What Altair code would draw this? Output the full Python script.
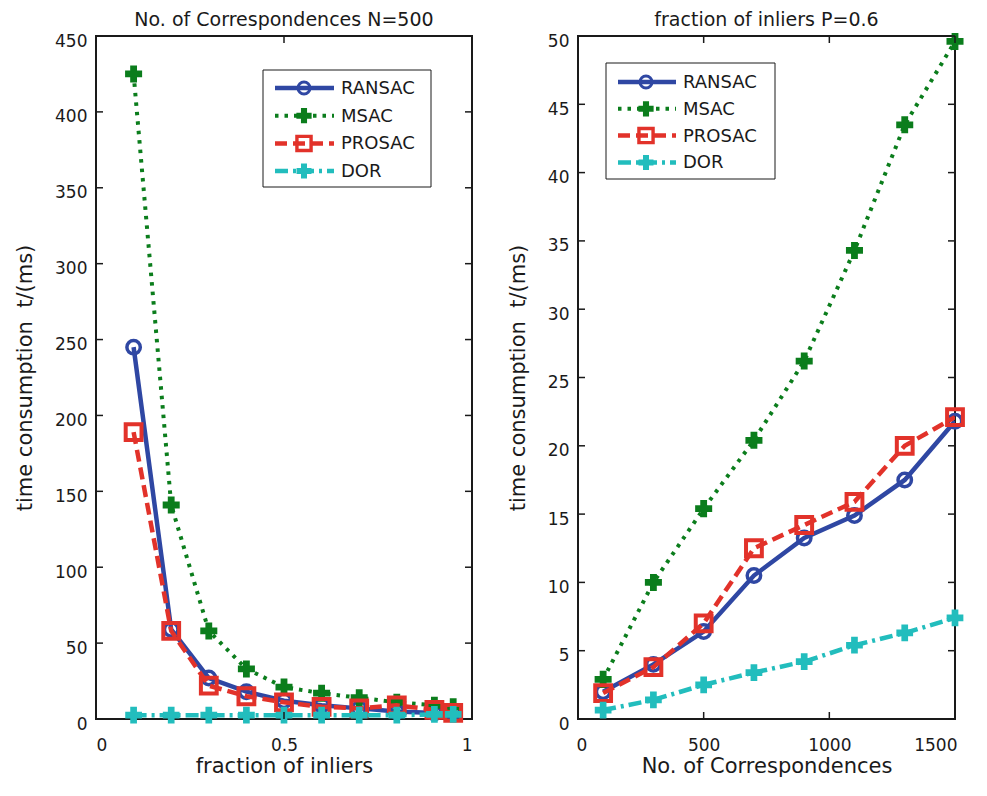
import altair as alt
import pandas as pd

# ---------------- data ----------------
series = ["RANSAC", "MSAC", "PROSAC", "DOR"]

# left panel: N = 500, varying fraction of inliers
frac_inliers = [0.1, 0.2, 0.3, 0.4, 0.5, 0.6, 0.7, 0.8, 0.9, 0.95]
left_ransac = [245, 59, 27, 18, 12, 9, 7, 5, 4, 4]
left_msac = [425, 141, 58, 33, 21, 17, 14, 11, 9, 8]
left_prosac = [189, 58, 22, 15, 11, 8, 7, 9, 6, 4]
left_dor = [2.5, 2.5, 2.5, 2.5, 2.5, 2.5, 2.5, 2.5, 3, 3]

# right panel: P = 0.6, varying number of correspondences
n_corr = [100, 300, 500, 700, 900, 1100, 1300, 1500]
right_ransac = [2.0, 4.0, 6.4, 10.5, 13.25, 14.9, 17.5, 21.8]
right_msac = [2.9, 10.0, 15.4, 20.4, 26.2, 34.3, 43.5, 49.6]
right_prosac = [1.9, 3.8, 7.0, 12.5, 14.2, 15.9, 20.0, 22.1]
right_dor = [0.65, 1.4, 2.5, 3.4, 4.2, 5.4, 6.3, 7.4]

left_xticks = [0, 0.5, 1]
left_yticks = [0, 50, 100, 150, 200, 250, 300, 350, 400, 450]
right_xticks = [0, 500, 1000, 1500]
right_yticks = [0, 5, 10, 15, 20, 25, 30, 35, 40, 45, 50]

# ---------------- styles ----------------
FONT = "DejaVu Sans"
INK = "#1a1a1a"
styles = {
    "RANSAC": dict(color="#2f47a3", dash=None, width=4.5, shape="circle", size=180, filled=False, sw=3.5),
    "MSAC": dict(color="#0b7d1c", dash=[3.5, 6], width=4, shape="cross", size=290, filled=True, sw=0),
    "PROSAC": dict(color="#e2322a", dash=[12, 6], width=4.5, shape="square", size=250, filled=False, sw=4),
    "DOR": dict(color="#22bdbd", dash=[13, 5, 3, 5], width=4.5, shape="cross", size=280, filled=True, sw=0),
}


def panel(xs, ys_by_series, xdom, ydom, xticks, yticks, w, h, title, xtitle, legend, flush):
    xaxis = dict(values=xticks, title=xtitle, format="~r")
    if flush:
        xaxis.update(labelFlush=True, labelFlushOffset=2)
    X = lambda f: alt.X(f"{f}:Q", scale=alt.Scale(domain=xdom, nice=False, zero=False),
                        axis=alt.Axis(**xaxis))
    Y = lambda f: alt.Y(f"{f}:Q", scale=alt.Scale(domain=ydom, nice=False, zero=False),
                        axis=alt.Axis(values=yticks, title="time consumption\u00a0 t/(ms)", format="~r"))
    layers = []
    for name in series:
        st = styles[name]
        df = pd.DataFrame({"x": xs, "y": ys_by_series[name]})
        lkw = dict(color=st["color"], strokeWidth=st["width"], clip=True)
        if st["dash"]:
            lkw["strokeDash"] = st["dash"]
        layers.append(alt.Chart(df).mark_line(**lkw).encode(x=X("x"), y=Y("y")))
        pkw = dict(shape=st["shape"], size=st["size"], filled=st["filled"], color=st["color"], opacity=1)
        if not st["filled"]:
            pkw["strokeWidth"] = st["sw"]
        layers.append(alt.Chart(df).mark_point(**pkw).encode(x=X("x"), y=Y("y")))

    # inward ticks (Matlab-like box axes)
    tx = pd.DataFrame({"x": xticks})
    ty = pd.DataFrame({"y": yticks})
    tk = dict(color=INK, strokeWidth=1.5)
    layers.append(alt.Chart(ty).mark_rule(**tk).encode(y=Y("y"), x=alt.value(0), x2=alt.value(7)))
    layers.append(alt.Chart(ty).mark_rule(**tk).encode(y=Y("y"), x=alt.value(w), x2=alt.value(w - 7)))
    layers.append(alt.Chart(tx).mark_rule(**tk).encode(x=X("x"), y=alt.value(h), y2=alt.value(h - 7)))
    layers.append(alt.Chart(tx).mark_rule(**tk).encode(x=X("x"), y=alt.value(0), y2=alt.value(7)))

    # legend box
    bx0, bx1, by0, by1, lx0, lx1, mx, tx0, ey0, estep = legend
    one = pd.DataFrame({"series": [""]})
    layers.append(alt.Chart(one).mark_rect(fill="white", stroke=INK, strokeWidth=1).encode(
        x=alt.value(bx0), x2=alt.value(bx1), y=alt.value(by0), y2=alt.value(by1)))
    for i, name in enumerate(series):
        st = styles[name]
        yy = ey0 + i * estep
        d = pd.DataFrame({"series": [name]})
        lkw = dict(color=st["color"], strokeWidth=st["width"])
        if st["dash"]:
            lkw["strokeDash"] = st["dash"]
        layers.append(alt.Chart(d).mark_rule(**lkw).encode(
            x=alt.value(lx0), x2=alt.value(lx1), y=alt.value(yy)))
        pkw = dict(shape=st["shape"], size=st["size"] * 0.8, filled=st["filled"], color=st["color"], opacity=1)
        if not st["filled"]:
            pkw["strokeWidth"] = st["sw"] * 0.85
        layers.append(alt.Chart(d).mark_point(**pkw).encode(x=alt.value(mx), y=alt.value(yy)))
        layers.append(alt.Chart(d).mark_text(align="left", baseline="middle", font=FONT,
                                             fontSize=18, color=INK).encode(
            x=alt.value(tx0), y=alt.value(yy + 1), text="series:N"))

    return alt.layer(*layers).properties(
        width=w, height=h,
        title=alt.TitleParams(title, font=FONT, fontSize=19, fontWeight="normal", color=INK,
                              frame="group", anchor="middle", offset=2),
    )


left = panel(frac_inliers,
             {"RANSAC": left_ransac, "MSAC": left_msac, "PROSAC": left_prosac, "DOR": left_dor},
             [0, 1], [0, 450], left_xticks, left_yticks, 376, 683,
             "No. of Correspondences N=500", "fraction of inliers",
             (167, 335, 34, 151, 179, 238, 208, 245, 52, 27.7), False)
right = panel(n_corr,
              {"RANSAC": right_ransac, "MSAC": right_msac, "PROSAC": right_prosac, "DOR": right_dor},
              [0, 1500], [0, 50], right_xticks, right_yticks, 377, 683,
              "fraction of inliers P=0.6", "No. of Correspondences",
              (28, 197, 27, 143, 40, 98, 68, 105, 46, 26.8), True)

chart = alt.hconcat(left, right, spacing=32).properties(
    padding={"left": 5, "top": 2, "right": 0, "bottom": 0}
).configure_view(stroke=INK, strokeWidth=2).configure_axis(
    domain=False, ticks=False, tickSize=0, grid=False,
    labelFont=FONT, labelFontSize=17, labelColor=INK,
    titleFont=FONT, titleFontSize=21, titleFontWeight="normal", titleColor=INK,
).configure_axisLeft(labelPadding=9, titlePadding=19, labelOffset=5).configure_axisBottom(
    labelPadding=18, titleY=53, titleBaseline="alphabetic")

chart.save("out.html", embed_options={"renderer": "svg", "actions": False})
